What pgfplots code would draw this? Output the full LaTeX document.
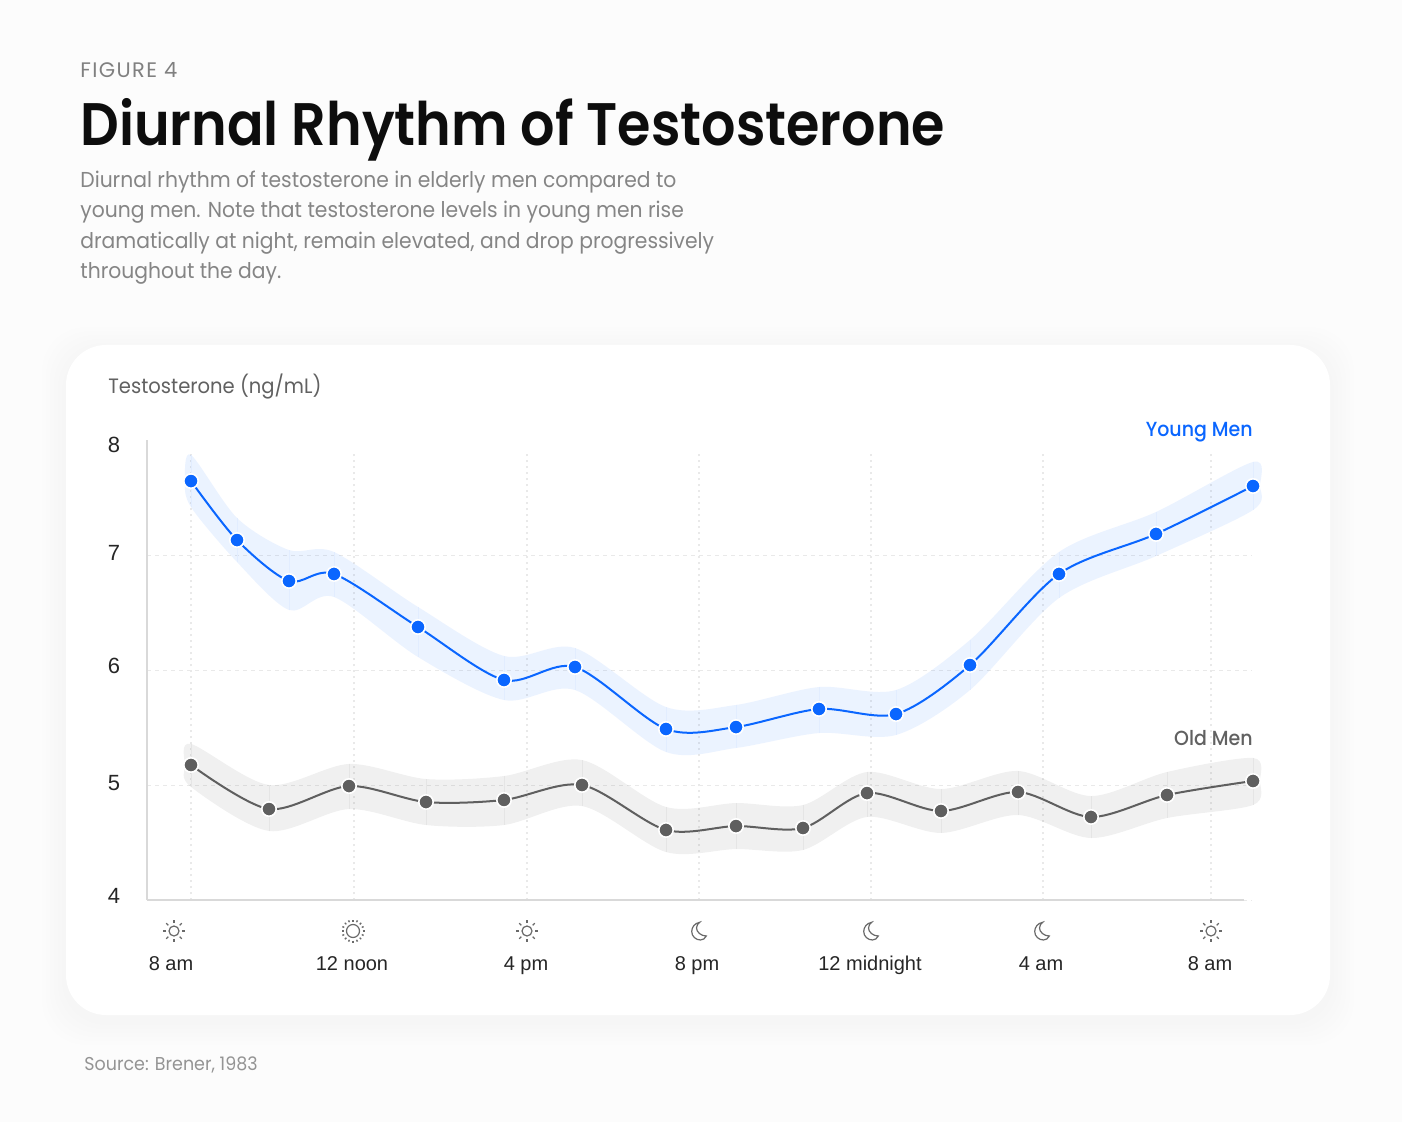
\documentclass[border=0pt]{standalone}
\usepackage{fontspec}
\setmainfont{Liberation Sans}
\newfontfamily\titlefont[FakeStretch=0.9]{Poppins SemiBold}
\newfontfamily\labelfont[FakeStretch=0.93]{Poppins Medium}
\newfontfamily\bodyfont[FakeStretch=0.94]{Poppins}
\newfontfamily\capsfont[LetterSpace=6.5]{Poppins}
\usepackage{pgfplots}
\usepackage{pgfplotstable}
\pgfplotsset{compat=1.18}

\definecolor{pagebg}{HTML}{FCFCFC}
\definecolor{blueline}{HTML}{0A66FF}
\definecolor{grayline}{HTML}{5F5F5F}
\definecolor{gridc}{HTML}{E9E9E9}
\definecolor{axisc}{HTML}{D9D9D9}
\definecolor{iconc}{HTML}{6A6A6A}

% x is the position along the clock axis (the ticks are not quite even)
\pgfplotstableread{
x y hi lo
191 7.643 7.870 7.417
237 7.130 7.322 6.939
289 6.774 7.043 6.522
334 6.835 7.026 6.635
418 6.374 6.548 6.113
504 5.913 6.122 5.739
575 6.026 6.191 5.826
666 5.487 5.678 5.287
736 5.504 5.696 5.322
819 5.661 5.852 5.452
896 5.617 5.826 5.435
970 6.043 6.261 5.826
1059 6.835 7.026 6.626
1156 7.183 7.374 6.991
1253 7.600 7.809 7.391
}\young
% outline of the band, out along the top and back along the bottom
\pgfplotstableread{
x y
185 7.64
191 7.870
237 7.322
289 7.043
334 7.026
418 6.548
504 6.122
575 6.191
666 5.678
736 5.696
819 5.852
896 5.826
970 6.261
1059 7.026
1156 7.374
1253 7.809
1260 7.60
1253 7.391
1156 6.991
1059 6.626
970 5.826
896 5.435
819 5.452
736 5.322
666 5.287
575 5.826
504 5.739
418 6.113
334 6.635
289 6.522
237 6.939
191 7.417
}\youngband
\pgfplotstableread{
x y hi lo
191 5.174 5.357 4.983
269 4.791 5.000 4.600
349 4.991 5.183 4.791
426 4.852 5.052 4.652
504 4.870 5.078 4.652
582 5.000 5.217 4.817
666 4.609 4.809 4.417
736 4.643 4.843 4.443
803 4.626 4.826 4.435
867 4.930 5.113 4.722
941 4.774 4.965 4.583
1018 4.939 5.122 4.739
1091 4.722 4.904 4.539
1167 4.913 5.113 4.713
1253 5.035 5.235 4.826
}\old
\pgfplotstableread{
x y
185 5.17
191 5.357
269 5.000
349 5.183
426 5.052
504 5.078
582 5.217
666 4.809
736 4.843
803 4.826
867 5.113
941 4.965
1018 5.122
1091 4.904
1167 5.113
1253 5.235
1260 5.035
1253 4.826
1167 4.713
1091 4.539
1018 4.739
941 4.583
867 4.722
803 4.435
736 4.443
666 4.417
582 4.817
504 4.652
426 4.652
349 4.791
269 4.600
191 4.983
}\oldband

\newcommand\xl[2]{\makebox[0pt]{\kern#1pt #2}}
\newcommand\yl[2]{\raisebox{#1pt}{#2}}

\tikzset{
  sun/.pic={
    \draw[iconc,line width=.6pt] (0,0) circle (5);
    \foreach \a in {0,45,...,315} \draw[iconc,line width=.6pt] (\a:8) -- (\a:11);
  },
  noon/.pic={
    \draw[iconc,line width=.6pt] (0,0) circle (6.5);
    \foreach \a in {0,22.5,...,337.5} \draw[iconc,line width=.7pt] (\a:9.5) -- (\a:11.5);
  },
  moon/.pic={
    \draw[iconc,line width=.6pt] (0.7,8.7) .. controls (-4,8) and (-7.3,4) .. (-7.3,-0.5)
      .. controls (-7.3,-5.5) and (-3,-9) .. (1.5,-9)
      .. controls (4,-9) and (6,-7.5) .. (7.3,-5)
      .. controls (2,-5) and (-2.5,-1) .. (-2.5,3)
      .. controls (-2.5,5.5) and (-1,7.5) .. cycle;
  },
}

\begin{document}
\begin{tikzpicture}[x=0.5pt,y=0.5pt]
\fill[pagebg] (0,0) rectangle (1402,-1122);

% card with a soft shadow
\foreach \g in {24,20,...,4}
  \fill[black,opacity=.003,rounded corners=22pt] (66-\g,-345+\g-6) rectangle (1330+\g,-1015-\g-6);
\fill[white,rounded corners=20pt] (66,-345) rectangle (1330,-1015);

% header
\node[anchor=base west,inner sep=0pt,text=black!50] at (80,-78) {\capsfont\fontsize{10.5}{12}\selectfont FIGURE 4};
\node[anchor=base west,inner sep=0pt,text=black!95] at (80,-146) {\titlefont\fontsize{30}{36}\selectfont Diurnal Rhythm of Testosterone};
\foreach \yy/\tx in {188/Diurnal rhythm of testosterone in elderly men compared to,
                     218/young men. Note that testosterone levels in young men rise,
                     249/{dramatically at night, remain elevated, and drop progressively},
                     279/throughout the day.}
  \node[anchor=base west,inner sep=0pt,text=black!48] at (80,-\yy) {\bodyfont\fontsize{10.8}{13}\selectfont \tx};

\begin{axis}[
    at={(73.5pt,-450pt)}, anchor=south west,
    scale only axis, width=552.5pt, height=230pt,
    xmin=147, xmax=1252, ymin=4, ymax=8,
    axis lines=left,
    axis line style={-, draw=axisc, line width=.7pt},
    x axis line style={shorten >=4pt},
    clip=false,
    xtick={191,354,527,699,871,1043,1211},
    xticklabels={\xl{-20}{8 am},\xl{-2}{12 noon},\xl{-1}{4 pm},\xl{-2}{8 pm},\xl{-1}{12 midnight},\xl{-2}{4 am},\xl{-1}{8 am}},
    ytick={4,5,6,7},
    yticklabels={\yl{2}{4},\yl{1}{5},\yl{2}{6},\yl{1}{7}},
    extra y ticks={8},
    extra y tick labels={\yl{-2.5}{8}},
    extra y tick style={grid=none},
    major tick length=0pt,
    grid=major,
    x grid style={gridc, line width=.6pt, dash pattern=on .8pt off 2.2pt},
    y grid style={gridc, line width=.5pt, dash pattern=on 2pt off 2pt},
    xticklabel style={font=\fontsize{10}{12}\selectfont, text=black!85, anchor=base, yshift=-35pt},
    yticklabel style={font=\fontsize{11}{13}\selectfont, text=black!85, anchor=base, xshift=-16.5pt, yshift=-3.9pt},
  ]
  % young men
  \addplot[smooth cycle, draw=none, fill=blueline, fill opacity=.08] table[x=x,y=y] {\youngband};
  \addplot[draw=none, forget plot, error bars/.cd, y dir=minus, y explicit,
      error mark=none, error bar style={blueline!12, line width=.5pt}]
    table[x=x, y=hi, y error minus expr=\thisrow{hi}-\thisrow{lo}] {\young};
  \addplot[blueline, line width=1pt, smooth, mark=*, mark size=3.6pt,
      mark options={fill=blueline, draw=white, line width=.8pt}] table[x=x,y=y] {\young};

  % old men
  \addplot[smooth cycle, draw=none, fill=black, fill opacity=.06] table[x=x,y=y] {\oldband};
  \addplot[draw=none, forget plot, error bars/.cd, y dir=minus, y explicit,
      error mark=none, error bar style={black!10, line width=.5pt}]
    table[x=x, y=hi, y error minus expr=\thisrow{hi}-\thisrow{lo}] {\old};
  \addplot[grayline, line width=1pt, smooth, mark=*, mark size=3.6pt,
      mark options={fill=grayline, draw=white, line width=.8pt}] table[x=x,y=y] {\old};
\end{axis}

% the vertical grid stops a little under the top of the axis
\fill[white] (148.5,-438) rectangle (1270,-454);

% texts round the axis
\node[anchor=base west,inner sep=0pt,text=black!62] at (108,-394) {\bodyfont\fontsize{10.4}{12}\selectfont Testosterone (ng/mL)};
\node[anchor=base east,inner sep=0pt,text=blueline] at (1253,-437) {\labelfont\fontsize{10.2}{12}\selectfont Young Men};
\node[anchor=base east,inner sep=0pt,text=black!62] at (1253,-745) {\labelfont\fontsize{10.2}{12}\selectfont Old Men};
\node[anchor=base west,inner sep=0pt,text=black!42] at (84,-1070) {\bodyfont\fontsize{9.3}{11}\selectfont Source: Brener, 1983};

% day and night icons under the ticks
\pic at (174,-931) {sun};
\pic at (353,-931) {noon};
\pic at (527,-931) {sun};
\pic at (699,-931) {moon};
\pic at (871,-931) {moon};
\pic at (1042,-931) {moon};
\pic at (1211,-931) {sun};
\end{tikzpicture}
\end{document}
